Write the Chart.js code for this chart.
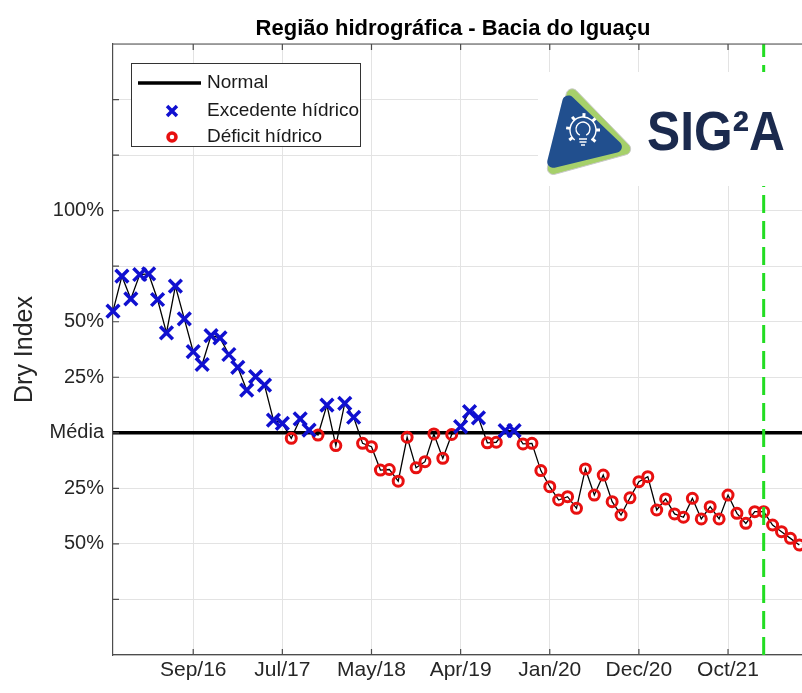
<!DOCTYPE html>
<html>
<head>
<meta charset="utf-8">
<script src="https://cdn.jsdelivr.net/npm/chart.js@4.4.1/dist/chart.umd.min.js"></script>
<style>
  html, body { margin:0; padding:0; background:#fff; overflow:hidden; }
  canvas { display:block; }
</style>
</head>
<body>
<canvas id="c" width="802" height="693"></canvas>
<script>
// Dry Index mensal (1 unidade = 25%, 0 = média)
const dryIndex = [
  2.19, 2.82, 2.41, 2.85, 2.86, 2.40, 1.80, 2.64, 2.05, 1.46,
  1.23, 1.75, 1.71, 1.41, 1.18, 0.77, 1.01, 0.86, 0.23, 0.17,
  -0.10, 0.25, 0.05, -0.04, 0.50, -0.23, 0.53, 0.28, -0.19, -0.25,
  -0.67, -0.66, -0.87, -0.08, -0.63, -0.52, -0.02, -0.46, -0.03, 0.11,
  0.38, 0.27, -0.18, -0.17, 0.04, 0.04, -0.20, -0.19, -0.68, -0.97,
  -1.21, -1.15, -1.36, -0.65, -1.12, -0.76, -1.24, -1.48, -1.17, -0.88,
  -0.79, -1.39, -1.19, -1.46, -1.52, -1.18, -1.55, -1.33, -1.55, -1.12,
  -1.45, -1.63, -1.42, -1.42, -1.66, -1.78, -1.90, -2.02
];
const xTickPos = [9, 19, 29, 39, 49, 59, 69];
const xTickLabels = ["Sep/16", "Jul/17", "May/18", "Apr/19", "Jan/20", "Dec/20", "Oct/21"];
const yTickValues = [4, 2, 1, 0, -1, -2];
const yTickLabels = ["100%", "50%", "25%", "Média", "25%", "50%"];
const markerIndex = 73;   // linha verde tracejada
const xMin = 0, xMax = 77.3, yMin = -4, yMax = 7;

const FONT = '"Liberation Sans", Arial, Helvetica, sans-serif';
const AZUL = "#1010d0", VERMELHO = "#e81010", VERDE = "#22dd22";

const pts = dryIndex.map((v, i) => ({ x: i, y: v }));

const moldura = {
  id: "moldura",
  afterDatasetsDraw(chart) {
    const { ctx, chartArea: a, scales } = chart;
    ctx.save();
    // borda superior + ticks para dentro
    ctx.strokeStyle = "#4d4d4d";
    ctx.lineWidth = 1.2;
    ctx.beginPath();
    ctx.moveTo(a.left, a.top); ctx.lineTo(a.right, a.top);
    xTickPos.forEach(v => {
      const px = scales.x.getPixelForValue(v);
      ctx.moveTo(px, a.bottom); ctx.lineTo(px, a.bottom - 6);
      ctx.moveTo(px, a.top); ctx.lineTo(px, a.top + 6);
    });
    for (let v = yMin + 1; v < yMax; v++) {
      const py = scales.y.getPixelForValue(v);
      ctx.moveTo(a.left, py); ctx.lineTo(a.left + 6, py);
    }
    ctx.stroke();

    // legenda
    ctx.fillStyle = "#fff";
    ctx.fillRect(131, 63, 230, 84);
    ctx.strokeStyle = "#333";
    ctx.lineWidth = 1;
    ctx.strokeRect(131.5, 63.5, 229, 83);
    ctx.strokeStyle = "#000";
    ctx.lineWidth = 3.5;
    ctx.beginPath(); ctx.moveTo(138, 83); ctx.lineTo(201, 83); ctx.stroke();
    ctx.strokeStyle = AZUL;
    Chart.helpers.drawPoint(ctx, { pointStyle: "crossRot", radius: 7, borderWidth: 3.5, rotation: 0 }, 172, 111);
    ctx.strokeStyle = VERMELHO;
    ctx.fillStyle = "rgba(0,0,0,0)";
    Chart.helpers.drawPoint(ctx, { pointStyle: "circle", radius: 4, borderWidth: 3, rotation: 0 }, 172, 137);
    ctx.fillStyle = "#1a1a1a";
    ctx.font = "19px " + FONT;
    ctx.textBaseline = "middle";
    ctx.fillText("Normal", 207, 83);
    ctx.fillText("Excedente hídrico", 207, 111);
    ctx.fillText("Déficit hídrico", 207, 137);

    // logo SIG²A
    ctx.fillStyle = "#fff";
    ctx.fillRect(538, 72, 264, 114);
    tri(ctx, [[569, 83], [545, 177], [636, 152]], 6);
    ctx.fillStyle = "#a6d06a"; ctx.fill();
    ctx.strokeStyle = "#c9c9c9"; ctx.lineWidth = 1; ctx.stroke();
    tri(ctx, [[565, 90], [545, 170], [628, 150]], 6);
    ctx.fillStyle = "#214f8e"; ctx.fill();
    // engrenagem + lâmpada
    const cx = 583, cy = 130;
    ctx.strokeStyle = "#fff";
    ctx.lineWidth = 1.4;
    ctx.beginPath();
    ctx.arc(cx, cy, 13, 0.72 * Math.PI, 2.28 * Math.PI);
    ctx.stroke();
    ctx.lineWidth = 3;
    ctx.beginPath();
    for (let k = 0; k < 7; k++) {
      const ang = Math.PI * (0.8 + k * 0.24);
      ctx.moveTo(cx + 13 * Math.cos(ang), cy + 13 * Math.sin(ang));
      ctx.lineTo(cx + 17 * Math.cos(ang), cy + 17 * Math.sin(ang));
    }
    ctx.stroke();
    ctx.lineWidth = 1.4;
    ctx.beginPath();
    ctx.arc(cx, cy - 1, 7, 0.65 * Math.PI, 2.35 * Math.PI);
    ctx.moveTo(cx - 4, cy + 9); ctx.lineTo(cx + 4, cy + 9);
    ctx.moveTo(cx - 3.5, cy + 12); ctx.lineTo(cx + 3.5, cy + 12);
    ctx.moveTo(cx - 2, cy + 15); ctx.lineTo(cx + 2, cy + 15);
    ctx.stroke();
    ctx.fillStyle = "#1b2a4e";
    ctx.font = "bold 56px " + FONT;
    ctx.textBaseline = "alphabetic";
    const w = ctx.measureText("SIG²A").width;
    ctx.save();
    ctx.translate(647, 150);
    ctx.scale(138 / w, 1);
    ctx.fillText("SIG²A", 0, 0);
    ctx.restore();

    // título
    ctx.fillStyle = "#000";
    ctx.font = "bold 22px " + FONT;
    ctx.textAlign = "center";
    ctx.fillText("Região hidrográfica - Bacia do Iguaçu", 453, 35);
    ctx.restore();
  }
};

function tri(ctx, p, r) {
  const m = [(p[2][0] + p[0][0]) / 2, (p[2][1] + p[0][1]) / 2];
  ctx.beginPath();
  ctx.moveTo(m[0], m[1]);
  ctx.arcTo(p[0][0], p[0][1], p[1][0], p[1][1], r);
  ctx.arcTo(p[1][0], p[1][1], p[2][0], p[2][1], r);
  ctx.arcTo(p[2][0], p[2][1], p[0][0], p[0][1], r);
  ctx.closePath();
}

new Chart(document.getElementById("c"), {
  type: "scatter",
  data: {
    datasets: [
      { label: "Limite", data: [{ x: markerIndex, y: yMin }, { x: markerIndex, y: yMax }],
        showLine: true, borderColor: VERDE, borderWidth: 3, borderDash: [18, 8],
        pointRadius: 0, order: 0 },
      { label: "Excedente hídrico", data: pts.filter(p => p.y > 0),
        pointStyle: "crossRot", pointRadius: 9, borderWidth: 3.5,
        borderColor: AZUL, backgroundColor: AZUL, clip: false, order: 1 },
      { label: "Déficit hídrico", data: pts.filter(p => p.y <= 0),
        pointStyle: "circle", pointRadius: 5, borderWidth: 3,
        borderColor: VERMELHO, backgroundColor: "rgba(0,0,0,0)", clip: false, order: 1 },
      { label: "Dry Index", data: pts, showLine: true, borderColor: "#000",
        borderWidth: 1.3, pointRadius: 0, order: 2 },
      { label: "Normal", data: [{ x: xMin, y: 0 }, { x: xMax, y: 0 }], showLine: true,
        borderColor: "#000", borderWidth: 3.5, pointRadius: 0, order: 3 }
    ]
  },
  options: {
    responsive: false,
    animation: false,
    events: [],
    layout: { autoPadding: false, padding: { top: 44, right: 0, left: 0, bottom: 0 } },
    scales: {
      x: {
        type: "linear", min: xMin, max: xMax,
        afterBuildTicks: s => { s.ticks = xTickPos.map(v => ({ value: v })); },
        afterFit: s => { s.height = 38; s.paddingLeft = 0; s.paddingRight = 0; },
        ticks: {
          autoSkip: false, maxRotation: 0, padding: 3, color: "#262626",
          font: { family: FONT, size: 21 },
          callback: v => xTickLabels[xTickPos.indexOf(v)] ?? ""
        },
        grid: { color: "#e3e3e3", lineWidth: 1, drawTicks: false },
        border: { color: "#4d4d4d", width: 1.2 }
      },
      y: {
        min: yMin, max: yMax,
        afterFit: s => { s.width = 113; s.paddingTop = 0; s.paddingBottom = 0; },
        ticks: {
          stepSize: 1, padding: 9, color: "#262626",
          font: { family: FONT, size: 20 },
          callback: v => { const k = yTickValues.indexOf(v); return k < 0 ? "" : yTickLabels[k]; }
        },
        grid: { color: "#e3e3e3", lineWidth: 1, drawTicks: false },
        border: { color: "#4d4d4d", width: 1.2 },
        title: { display: true, text: "Dry Index", color: "#262626",
                 font: { family: FONT, size: 25 }, padding: { top: 10, bottom: 0 } }
      }
    },
    plugins: { legend: { display: false }, tooltip: { enabled: false } }
  },
  plugins: [moldura]
});
</script>
</body>
</html>
